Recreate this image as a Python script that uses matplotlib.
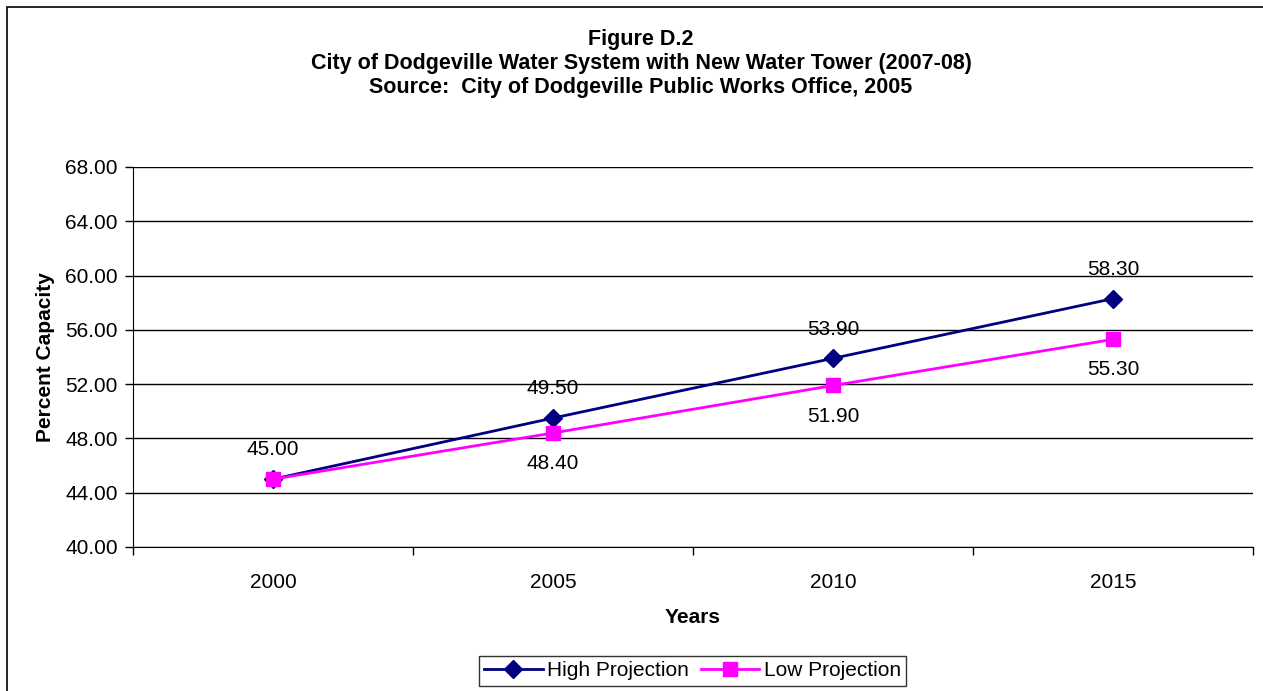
import numpy as np
import matplotlib.pyplot as plt
from matplotlib.patches import Rectangle

plt.rcParams['font.family'] = ['Liberation Sans', 'DejaVu Sans']

years = ['2000', '2005', '2010', '2015']
high_projection = [45.00, 49.50, 53.90, 58.30]
low_projection = [45.00, 48.40, 51.90, 55.30]
y_ticks = [40, 44, 48, 52, 56, 60, 64, 68]

W, H = 1263, 691
FS = 15
fig = plt.figure(figsize=(W / 100, H / 100), dpi=100)
ax = fig.add_axes([133 / W, 1 - 547 / H, (1253 - 133) / W, (547 - 167) / H])

x = np.arange(len(years))
ax.plot(x, high_projection, color='#000080', lw=2, marker='D', ms=9,
        label='High Projection', zorder=3)
ax.plot(x, low_projection, color='#FF00FF', lw=2, marker='s', ms=10,
        label='Low Projection', zorder=4)

for xi, h, l in zip(x, high_projection, low_projection):
    ax.annotate(f'{h:.2f}', (xi, h), xytext=(0, 21), textcoords='offset points',
                ha='center', va='center', fontsize=FS)
    if l != h:
        ax.annotate(f'{l:.2f}', (xi, l), xytext=(0, -22), textcoords='offset points',
                    ha='center', va='center', fontsize=FS)

ax.set_xlim(-0.5, len(years) - 0.5)
ax.set_ylim(40, 68)
ax.set_yticks(y_ticks)
ax.set_yticklabels([f'{v:.2f}' for v in y_ticks])
ax.set_xticks(np.arange(-0.5, len(years), 1.0))
ax.set_xticklabels([])
ax.set_xticks(x, minor=True)
ax.set_xticklabels(years, minor=True)
ax.tick_params(axis='x', which='minor', length=0, pad=19, labelsize=FS)
ax.tick_params(axis='x', which='major', length=6, width=1, direction='out')
ax.tick_params(axis='y', length=6, width=1, direction='out', labelsize=FS, pad=5)

ax.yaxis.grid(True, color='black', lw=1)
ax.set_axisbelow(True)
for s in ['top', 'right']:
    ax.spines[s].set_visible(False)

ax.set_xlabel('Years', fontsize=FS, fontweight='bold', labelpad=11)
ax.set_ylabel('Percent Capacity', fontsize=FS, fontweight='bold', labelpad=7)

tx = 641 / W
fig.text(tx, 1 - 40 / H, 'Figure D.2', ha='center', va='center',
         fontsize=15.5, fontweight='bold')
fig.text(tx, 1 - 64 / H, 'City of Dodgeville Water System with New Water Tower (2007-08)',
         ha='center', va='center', fontsize=15.5, fontweight='bold')
fig.text(tx, 1 - 88 / H, 'Source:  City of Dodgeville Public Works Office, 2005',
         ha='center', va='center', fontsize=15.5, fontweight='bold')

leg = ax.legend(loc='center', bbox_to_anchor=(692.5 / W, 1 - 671 / H),
                bbox_transform=fig.transFigure, ncol=2, fontsize=FS,
                frameon=True, fancybox=False, edgecolor='black',
                handlelength=2.8, columnspacing=0.6, handletextpad=0.2,
                borderpad=0.25, borderaxespad=0)
leg.get_frame().set_linewidth(1)

fig.patches.append(Rectangle((6.5 / W, -0.05), 1.05, 1.05 - 6.5 / H,
                             transform=fig.transFigure, fill=False,
                             edgecolor='black', lw=1.2))

fig.savefig('out.png', dpi=100)
